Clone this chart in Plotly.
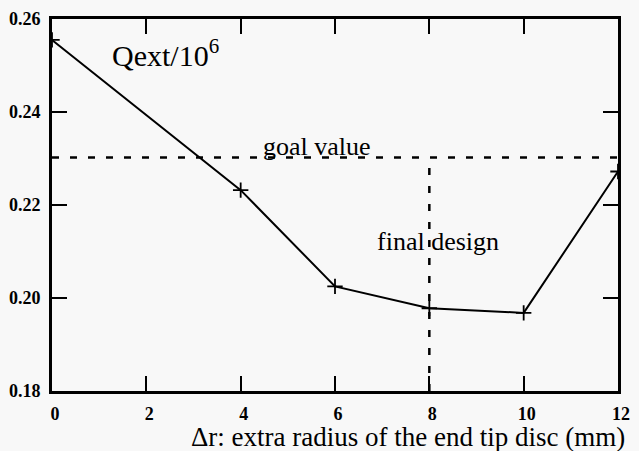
import plotly.graph_objects as go

# Extra radius of the end tip disc (mm) and external Q (in units of 1e6)
delta_r = [0, 4, 6, 8, 10, 12]
qext = [0.2555, 0.2232, 0.2025, 0.1978, 0.1968, 0.2272]

goal_value = 0.2302
final_design = 8

x_ticks = [0, 2, 4, 6, 8, 10, 12]
y_ticks = [0.18, 0.20, 0.22, 0.24, 0.26]

serif = "Liberation Serif, Times New Roman, serif"

fig = go.Figure()

# goal value (horizontal dashed line)
fig.add_trace(go.Scatter(
    x=[0, 12], y=[goal_value, goal_value], mode="lines",
    line=dict(color="black", width=2.5, dash="7px,11px"), hoverinfo="skip"))

# final design (vertical dashed line from goal down to axis)
fig.add_trace(go.Scatter(
    x=[final_design, final_design], y=[0.18, goal_value], mode="lines",
    line=dict(color="black", width=2.5, dash="7px,11px"), hoverinfo="skip"))

# Qext curve
fig.add_trace(go.Scatter(
    x=delta_r, y=qext, mode="lines+markers",
    line=dict(color="black", width=2),
    marker=dict(symbol="cross-thin", size=11, line=dict(color="black", width=1.8)),
))

fig.add_annotation(x=1.24, y=0.2526, xref="x", yref="y", text="Qext/10<sup>6</sup>",
                   showarrow=False, xanchor="left", yanchor="middle",
                   font=dict(family=serif, size=30, color="black"))
fig.add_annotation(x=4.44, y=0.2326, xref="x", yref="y", text="goal value",
                   showarrow=False, xanchor="left", yanchor="middle",
                   font=dict(family=serif, size=26, color="black"))
fig.add_annotation(x=6.85, y=0.2121, xref="x", yref="y", text="final design",
                   showarrow=False, xanchor="left", yanchor="middle",
                   font=dict(family=serif, size=26, color="black"))

# x-axis title, right-aligned under the axis
fig.add_annotation(x=1, y=0, xref="paper", yref="paper", yshift=-46, xshift=9,
                   text="Δr: extra radius of the end tip disc (mm)",
                   showarrow=False, xanchor="right", yanchor="middle",
                   font=dict(family=serif, size=27, color="black"))

fig.update_layout(
    width=639, height=451,
    margin=dict(l=51, r=15, t=9, b=60),
    paper_bgcolor="#f8f8f8", plot_bgcolor="#f8f8f8",
    showlegend=False,
    font=dict(family=serif, color="black"),
    xaxis=dict(
        range=[0, 12], tickvals=x_ticks, ticktext=[f"<b>{v}</b>" for v in x_ticks],
        ticks="inside", ticklen=15, tickwidth=2, tickcolor="black",
        showline=True, linecolor="black", linewidth=3, mirror="ticks",
        showgrid=False, zeroline=False, ticklabelshift=3, ticklabelstandoff=4,
        tickfont=dict(family=serif, size=18, color="black"),
    ),
    yaxis=dict(
        range=[0.18, 0.26], tickvals=y_ticks, ticktext=[f"<b>{v:.2f}</b>" for v in y_ticks],
        ticks="inside", ticklen=15, tickwidth=2, tickcolor="black",
        showline=True, linecolor="black", linewidth=3, mirror="ticks",
        showgrid=False, zeroline=False, ticklabelstandoff=5,
        tickfont=dict(family=serif, size=18, color="black"),
    ),
)

fig.write_html("out.html")
